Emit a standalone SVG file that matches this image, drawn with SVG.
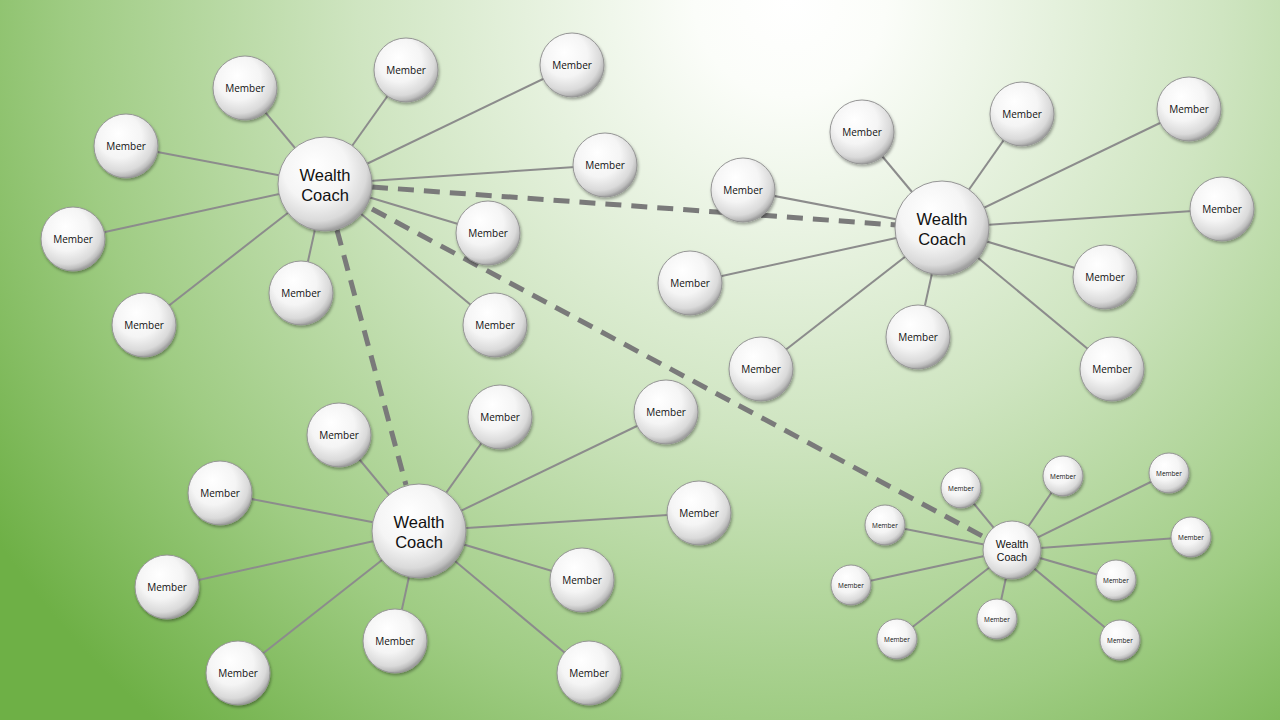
<svg xmlns="http://www.w3.org/2000/svg" width="1280" height="720" viewBox="0 0 1280 720">
<defs>
<radialGradient id="bg" gradientUnits="userSpaceOnUse" cx="790" cy="0" r="960">
<stop offset="0" stop-color="#ffffff"/>
<stop offset="0.1" stop-color="#fbfdf9"/>
<stop offset="0.45" stop-color="#cfe5c1"/>
<stop offset="0.75" stop-color="#9fcc83"/>
<stop offset="1" stop-color="#6eb046"/>
</radialGradient>
<radialGradient id="ball" cx="0.42" cy="0.38" r="0.62" fx="0.38" fy="0.3">
<stop offset="0" stop-color="#ffffff"/>
<stop offset="0.55" stop-color="#f5f5f5"/>
<stop offset="0.85" stop-color="#dadada"/>
<stop offset="0.95" stop-color="#bdbdbd"/>
<stop offset="1" stop-color="#a0a0a0"/>
</radialGradient>
<filter id="sh" x="-30%" y="-30%" width="160%" height="160%">
<feDropShadow dx="1" dy="2" stdDeviation="1.6" flood-color="#000" flood-opacity="0.35"/>
</filter>
<style>
.n circle{fill:url(#ball);stroke:#959595;stroke-width:1;filter:url(#sh)}
.n text{font-family:"Open Sans","Noto Sans","Liberation Sans",sans-serif;fill:#111;text-anchor:middle}
.c text,.sc text{font-family:"Liberation Sans","Arial",sans-serif}
.m text{font-size:10px}
.c text{font-size:16.5px}
.sm text{font-size:6.5px}
.sc text{font-size:10.5px}
.l{stroke:#8c8c8c;stroke-width:2;fill:none}
.d{stroke:#7a7a7a;stroke-width:5;stroke-dasharray:16 10;fill:none}
</style>
</defs>
<rect width="1280" height="720" fill="url(#bg)"/>
<g id="connectors">
<g id="spokes1">
<line class="l" x1="325" y1="184" x2="245" y2="88"/>
<line class="l" x1="325" y1="184" x2="406" y2="70"/>
<line class="l" x1="325" y1="184" x2="572" y2="65"/>
<line class="l" x1="325" y1="184" x2="126" y2="146"/>
<line class="l" x1="325" y1="184" x2="605" y2="165"/>
<line class="l" x1="325" y1="184" x2="73" y2="239"/>
<line class="l" x1="325" y1="184" x2="488" y2="233"/>
<line class="l" x1="325" y1="184" x2="144" y2="325"/>
<line class="l" x1="325" y1="184" x2="301" y2="293"/>
<line class="l" x1="325" y1="184" x2="495" y2="325"/>
</g>
<g id="spokes2">
<line class="l" x1="942" y1="228" x2="862" y2="132"/>
<line class="l" x1="942" y1="228" x2="1022" y2="114"/>
<line class="l" x1="942" y1="228" x2="1189" y2="109"/>
<line class="l" x1="942" y1="228" x2="743" y2="190"/>
<line class="l" x1="942" y1="228" x2="1222" y2="209"/>
<line class="l" x1="942" y1="228" x2="690" y2="283"/>
<line class="l" x1="942" y1="228" x2="1105" y2="277"/>
<line class="l" x1="942" y1="228" x2="761" y2="369"/>
<line class="l" x1="942" y1="228" x2="918" y2="337"/>
<line class="l" x1="942" y1="228" x2="1112" y2="369"/>
</g>
<g id="spokes3">
<line class="l" x1="419" y1="531" x2="339" y2="435"/>
<line class="l" x1="419" y1="531" x2="500" y2="417"/>
<line class="l" x1="419" y1="531" x2="666" y2="412"/>
<line class="l" x1="419" y1="531" x2="220" y2="493"/>
<line class="l" x1="419" y1="531" x2="699" y2="513"/>
<line class="l" x1="419" y1="531" x2="167" y2="587"/>
<line class="l" x1="419" y1="531" x2="582" y2="580"/>
<line class="l" x1="419" y1="531" x2="238" y2="673"/>
<line class="l" x1="419" y1="531" x2="395" y2="641"/>
<line class="l" x1="419" y1="531" x2="589" y2="673"/>
</g>
<g id="spokes4">
<line class="l" x1="1012" y1="550" x2="961" y2="488" stroke-width="1.5"/>
<line class="l" x1="1012" y1="550" x2="1063" y2="476" stroke-width="1.5"/>
<line class="l" x1="1012" y1="550" x2="1169" y2="473" stroke-width="1.5"/>
<line class="l" x1="1012" y1="550" x2="885" y2="525" stroke-width="1.5"/>
<line class="l" x1="1012" y1="550" x2="1191" y2="537" stroke-width="1.5"/>
<line class="l" x1="1012" y1="550" x2="851" y2="585" stroke-width="1.5"/>
<line class="l" x1="1012" y1="550" x2="1116" y2="580" stroke-width="1.5"/>
<line class="l" x1="1012" y1="550" x2="897" y2="639" stroke-width="1.5"/>
<line class="l" x1="1012" y1="550" x2="997" y2="619" stroke-width="1.5"/>
<line class="l" x1="1012" y1="550" x2="1120" y2="640" stroke-width="1.5"/>
</g>
<g id="links">
<line class="d" x1="372" y1="187" x2="896" y2="225"/>
<line class="d" x1="337" y1="230" x2="406" y2="485"/>
<line class="d" x1="372" y1="209" x2="986" y2="538"/>
</g>
</g>
<g id="coach1" class="n c"><circle cx="325" cy="184" r="47"/><text x="325" y="181">Wealth<tspan x="325" dy="19.5">Coach</tspan></text></g>
<g id="coach2" class="n c"><circle cx="942" cy="228" r="47"/><text x="942" y="225">Wealth<tspan x="942" dy="19.5">Coach</tspan></text></g>
<g id="coach3" class="n c"><circle cx="419" cy="531" r="47"/><text x="419" y="528">Wealth<tspan x="419" dy="19.5">Coach</tspan></text></g>
<g id="coach4" class="n sc"><circle cx="1012" cy="550" r="29"/><text x="1012" y="548">Wealth<tspan x="1012" dy="12.5">Coach</tspan></text></g>
<g id="m1a" class="n m"><circle cx="245" cy="88" r="32"/><text x="245" y="92">Member</text></g>
<g id="m1b" class="n m"><circle cx="406" cy="70" r="32"/><text x="406" y="74">Member</text></g>
<g id="m1c" class="n m"><circle cx="572" cy="65" r="32"/><text x="572" y="69">Member</text></g>
<g id="m1d" class="n m"><circle cx="126" cy="146" r="32"/><text x="126" y="150">Member</text></g>
<g id="m1e" class="n m"><circle cx="605" cy="165" r="32"/><text x="605" y="169">Member</text></g>
<g id="m1f" class="n m"><circle cx="73" cy="239" r="32"/><text x="73" y="243">Member</text></g>
<g id="m1g" class="n m"><circle cx="488" cy="233" r="32"/><text x="488" y="237">Member</text></g>
<g id="m1h" class="n m"><circle cx="144" cy="325" r="32"/><text x="144" y="329">Member</text></g>
<g id="m1i" class="n m"><circle cx="301" cy="293" r="32"/><text x="301" y="297">Member</text></g>
<g id="m1j" class="n m"><circle cx="495" cy="325" r="32"/><text x="495" y="329">Member</text></g>
<g id="m2a" class="n m"><circle cx="862" cy="132" r="32"/><text x="862" y="136">Member</text></g>
<g id="m2b" class="n m"><circle cx="1022" cy="114" r="32"/><text x="1022" y="118">Member</text></g>
<g id="m2c" class="n m"><circle cx="1189" cy="109" r="32"/><text x="1189" y="113">Member</text></g>
<g id="m2d" class="n m"><circle cx="743" cy="190" r="32"/><text x="743" y="194">Member</text></g>
<g id="m2e" class="n m"><circle cx="1222" cy="209" r="32"/><text x="1222" y="213">Member</text></g>
<g id="m2f" class="n m"><circle cx="690" cy="283" r="32"/><text x="690" y="287">Member</text></g>
<g id="m2g" class="n m"><circle cx="1105" cy="277" r="32"/><text x="1105" y="281">Member</text></g>
<g id="m2h" class="n m"><circle cx="761" cy="369" r="32"/><text x="761" y="373">Member</text></g>
<g id="m2i" class="n m"><circle cx="918" cy="337" r="32"/><text x="918" y="341">Member</text></g>
<g id="m2j" class="n m"><circle cx="1112" cy="369" r="32"/><text x="1112" y="373">Member</text></g>
<g id="m3a" class="n m"><circle cx="339" cy="435" r="32"/><text x="339" y="439">Member</text></g>
<g id="m3b" class="n m"><circle cx="500" cy="417" r="32"/><text x="500" y="421">Member</text></g>
<g id="m3c" class="n m"><circle cx="666" cy="412" r="32"/><text x="666" y="416">Member</text></g>
<g id="m3d" class="n m"><circle cx="220" cy="493" r="32"/><text x="220" y="497">Member</text></g>
<g id="m3e" class="n m"><circle cx="699" cy="513" r="32"/><text x="699" y="517">Member</text></g>
<g id="m3f" class="n m"><circle cx="167" cy="587" r="32"/><text x="167" y="591">Member</text></g>
<g id="m3g" class="n m"><circle cx="582" cy="580" r="32"/><text x="582" y="584">Member</text></g>
<g id="m3h" class="n m"><circle cx="238" cy="673" r="32"/><text x="238" y="677">Member</text></g>
<g id="m3i" class="n m"><circle cx="395" cy="641" r="32"/><text x="395" y="645">Member</text></g>
<g id="m3j" class="n m"><circle cx="589" cy="673" r="32"/><text x="589" y="677">Member</text></g>
<g id="m4a" class="n sm"><circle cx="961" cy="488" r="20"/><text x="961" y="490.5">Member</text></g>
<g id="m4b" class="n sm"><circle cx="1063" cy="476" r="20"/><text x="1063" y="478.5">Member</text></g>
<g id="m4c" class="n sm"><circle cx="1169" cy="473" r="20"/><text x="1169" y="475.5">Member</text></g>
<g id="m4d" class="n sm"><circle cx="885" cy="525" r="20"/><text x="885" y="527.5">Member</text></g>
<g id="m4e" class="n sm"><circle cx="1191" cy="537" r="20"/><text x="1191" y="539.5">Member</text></g>
<g id="m4f" class="n sm"><circle cx="851" cy="585" r="20"/><text x="851" y="587.5">Member</text></g>
<g id="m4g" class="n sm"><circle cx="1116" cy="580" r="20"/><text x="1116" y="582.5">Member</text></g>
<g id="m4h" class="n sm"><circle cx="897" cy="639" r="20"/><text x="897" y="641.5">Member</text></g>
<g id="m4i" class="n sm"><circle cx="997" cy="619" r="20"/><text x="997" y="621.5">Member</text></g>
<g id="m4j" class="n sm"><circle cx="1120" cy="640" r="20"/><text x="1120" y="642.5">Member</text></g>
</svg>
